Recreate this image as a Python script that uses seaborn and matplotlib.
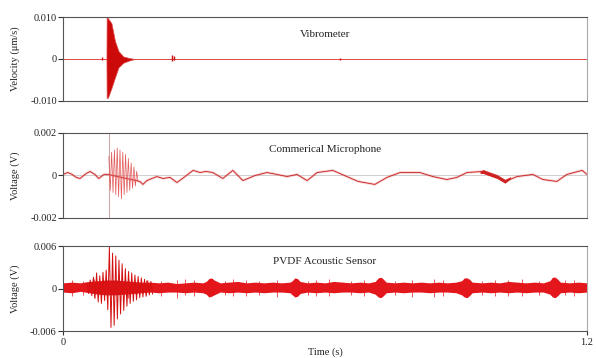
import numpy as np
import pandas as pd
import seaborn as sns
import matplotlib.pyplot as plt

# ---- Vibrometer: envelope of the trace (velocity) ----
vib_t = [0.0, 0.0995, 0.1000, 0.1030, 0.1110, 0.1190, 0.1270, 0.1380, 0.1530, 0.165, 1.2]
vib_hi = [0.0, 0.0, 0.0100, 0.0097, 0.0085, 0.0043, 0.0019, 0.0006, 0.0002, 0.0, 0.0]
vib_lo = [0.0, 0.0, -0.0093, -0.0092, -0.0069, -0.0044, -0.0020, -0.0009, -0.0003, 0.0, 0.0]
# small blips along the vibrometer baseline
vib_blip_t = [0.020, 0.045, 0.089, 0.21, 0.23, 0.249, 0.254, 0.40, 0.52, 0.634, 0.70, 0.78, 0.85, 0.93]
vib_blip_hi = [0.0001, 0.0001, 0.0004, 0.0001, 0.0001, 0.0010, 0.0006, 0.0001, 0.0001, 0.0003, 0.0001, 0.0001, 0.0001, 0.0001]
vib_blip_lo = [-0.0001, -0.0001, -0.0002, -0.0001, -0.0001, -0.0004, -0.0003, -0.0001, -0.0001, -0.0002, -0.0001, -0.0001, -0.0001, -0.0001]

# ---- Commercial microphone: slow wander + burst peaks ----
mic_t = [0.000, 0.011, 0.021, 0.030, 0.039, 0.053, 0.062, 0.073, 0.082, 0.094, 0.103,
         0.176, 0.183, 0.192, 0.204, 0.215, 0.229, 0.245, 0.261, 0.277, 0.298, 0.314,
         0.327, 0.343, 0.366, 0.389, 0.412, 0.440, 0.467, 0.490, 0.513, 0.536, 0.559,
         0.582, 0.618, 0.650, 0.676, 0.714, 0.742, 0.772, 0.817, 0.847, 0.879, 0.902,
         0.925, 0.962, 0.994, 1.012, 1.040, 1.076, 1.099, 1.131, 1.154, 1.189, 1.200]
mic_v = [0.00005, 0.00014, 0.00005, -0.00009, -0.00014, 0.00009, 0.00019, 0.00005, -0.00014, 0.00005, 0.00005,
         -0.00028, -0.00042, -0.00024, -0.00014, -0.00005, -0.00014, -0.00009, -0.00033, -0.00009, 0.00024, 0.00014,
         0.00019, 0.00014, -0.00014, 0.00024, -0.00024, 0.0, 0.00014, 0.00005, -0.00005, 0.00005, -0.00024,
         0.00014, 0.00024, -0.00005, -0.00028, -0.00042, -0.00009, 0.00014, 0.00014, -0.00005, -0.00019, -0.00009,
         0.00014, 0.00019, -0.00005, -0.00028, -0.00005, 0.00005, -0.00019, -0.00028, 0.00005, 0.00024, 0.00005]
mic_burst = [0.0009, -0.0007, 0.0011, -0.0008, 0.0012, -0.0009, 0.0013, -0.0010, 0.0012, -0.0011, 0.0011,
             -0.0009, 0.0010, -0.0008, 0.0008, -0.0007, 0.0006, -0.0006, 0.0004, -0.0005, 0.0002, -0.0003]
mic_dense_t = [0.955, 0.962, 0.975, 0.994, 1.012, 1.025]
mic_dense_hi = [0.00020, 0.00028, 0.00018, 0.00004, -0.00018, -0.00006]
mic_dense_lo = [0.00010, 0.00010, 0.00000, -0.00014, -0.00036, -0.00016]

# ---- PVDF acoustic sensor: noise band + burst peaks ----
pvdf_t = [0.00, 0.02, 0.04, 0.06, 0.08, 0.10, 0.12, 0.14, 0.16, 0.18, 0.20, 0.22, 0.24, 0.26, 0.28, 0.30,
          0.32, 0.328, 0.334, 0.340, 0.346, 0.36, 0.38, 0.40, 0.42, 0.44, 0.46, 0.48, 0.50, 0.52, 0.525,
          0.531, 0.537, 0.543, 0.56, 0.58, 0.60, 0.62, 0.64, 0.66, 0.68, 0.70, 0.715, 0.722, 0.728, 0.734,
          0.740, 0.76, 0.78, 0.80, 0.82, 0.84, 0.86, 0.88, 0.90, 0.913, 0.919, 0.925, 0.931, 0.937, 0.96,
          0.98, 1.00, 1.02, 1.04, 1.06, 1.08, 1.10, 1.115, 1.121, 1.127, 1.133, 1.139, 1.16, 1.18, 1.20]
pvdf_hi = [0.0008, 0.0009, 0.0008, 0.0010, 0.0011, 0.0012, 0.0012, 0.0011, 0.0010, 0.0009, 0.0009, 0.0008,
           0.0009, 0.0007, 0.0008, 0.0009, 0.0008, 0.0010, 0.0014, 0.0015, 0.0012, 0.0008, 0.0009, 0.0010,
           0.0008, 0.0009, 0.0008, 0.0009, 0.0008, 0.0009, 0.0011, 0.0015, 0.0014, 0.0010, 0.0008, 0.0009,
           0.0008, 0.0010, 0.0009, 0.0008, 0.0009, 0.0008, 0.0010, 0.0015, 0.0016, 0.0013, 0.0009, 0.0008,
           0.0009, 0.0008, 0.0009, 0.0008, 0.0009, 0.0008, 0.0009, 0.0011, 0.0015, 0.0015, 0.0013, 0.0009,
           0.0008, 0.0009, 0.0008, 0.0010, 0.0009, 0.0008, 0.0009, 0.0008, 0.0011, 0.0016, 0.0016, 0.0013,
           0.0009, 0.0008, 0.0009, 0.0008]
pvdf_lo = [-0.0005, -0.0006, -0.0004, -0.0006, -0.0008, -0.0009, -0.0009, -0.0008, -0.0007, -0.0006, -0.0005,
           -0.0006, -0.0005, -0.0005, -0.0006, -0.0005, -0.0006, -0.0008, -0.0012, -0.0011, -0.0009, -0.0005,
           -0.0006, -0.0005, -0.0006, -0.0005, -0.0006, -0.0005, -0.0005, -0.0006, -0.0009, -0.0012, -0.0011,
           -0.0007, -0.0005, -0.0006, -0.0005, -0.0006, -0.0005, -0.0005, -0.0006, -0.0005, -0.0008, -0.0012,
           -0.0013, -0.0010, -0.0006, -0.0005, -0.0006, -0.0005, -0.0005, -0.0006, -0.0005, -0.0005, -0.0006,
           -0.0009, -0.0012, -0.0013, -0.0010, -0.0006, -0.0005, -0.0006, -0.0005, -0.0006, -0.0005, -0.0006,
           -0.0005, -0.0005, -0.0008, -0.0012, -0.0013, -0.0010, -0.0006, -0.0005, -0.0006, -0.0005]
pvdf_burst = [0.0008, -0.0007, 0.0012, -0.0010, 0.0016, -0.0014, 0.0022, -0.0019, 0.0018, -0.0021, 0.0023,
              -0.0017, 0.0026, -0.0030, 0.0059, -0.0055, 0.0050, -0.0052, 0.0046, -0.0043, 0.0040, -0.0036,
              0.0035, -0.0031, 0.0028, -0.0025, 0.0024, -0.0021, 0.0022, -0.0018, 0.0019, -0.0016, 0.0017,
              -0.0013, 0.0015, -0.0012, 0.0013, -0.0011, 0.0011, -0.0009, 0.0010, -0.0008]
pvdf_spike_t = [0.02, 0.045, 0.07, 0.15, 0.19, 0.225, 0.262, 0.28, 0.30, 0.37, 0.39, 0.42, 0.45, 0.49,
                0.56, 0.58, 0.61, 0.66, 0.69, 0.76, 0.80, 0.85, 0.87, 0.96, 0.99, 1.02, 1.05, 1.09, 1.15, 1.17]
pvdf_spike_hi = [0.0012, 0.0011, 0.0013, 0.0014, 0.0012, 0.0011, 0.0012, 0.0013, 0.0012, 0.0011, 0.0013,
                 0.0012, 0.0011, 0.0012, 0.0011, 0.0012, 0.0013, 0.0011, 0.0012, 0.0011, 0.0012, 0.0013,
                 0.0012, 0.0011, 0.0012, 0.0012, 0.0013, 0.0011, 0.0012, 0.0012]
pvdf_spike_lo = [-0.0010, -0.0009, -0.0012, -0.0013, -0.0009, -0.0011, -0.0014, -0.0009, -0.0010, -0.0009,
                 -0.0011, -0.0010, -0.0009, -0.0012, -0.0009, -0.0010, -0.0011, -0.0009, -0.0010, -0.0009,
                 -0.0012, -0.0012, -0.0010, -0.0009, -0.0011, -0.0010, -0.0010, -0.0009, -0.0009, -0.0010]

red = '#e3161b'
dark_red = '#cc0a0a'

sns.set_theme(style="white")
plt.rcParams['font.family'] = ['Liberation Serif', 'DejaVu Serif']

fig = plt.figure(figsize=(5.96, 3.58), dpi=100)
ax1 = fig.add_axes([0.1057, 0.7179, 0.8792, 0.2346])
ax2 = fig.add_axes([0.1057, 0.3911, 0.8792, 0.2374])
ax3 = fig.add_axes([0.1057, 0.0754, 0.8792, 0.2374])


def style(ax, lim, labels, ylabel, title, ty):
    ax.set_xlim(0, 1.2)
    ax.set_ylim(-lim, lim)
    ax.set_yticks([-lim, 0, lim])
    ax.set_yticklabels(labels)
    ax.tick_params(axis='y', left=True, direction='out', length=3.5, width=0.8,
                   color='#333333', labelsize=7.5, pad=1, labelcolor='#222222')
    ax.set_ylabel(ylabel, fontsize=7.5, color='#222222')
    ax.yaxis.set_label_coords(-0.082, 0.5)
    for side in ['left', 'top', 'bottom']:
        ax.spines[side].set_color('#555555')
        ax.spines[side].set_linewidth(0.8)
    ax.spines['right'].set_color('#aaaaaa')
    ax.spines['right'].set_linewidth(0.8)
    ax.axhline(0, color='#c8c8c8', lw=0.6, zorder=0)
    ax.text(0.5, ty, title, transform=ax.transAxes, ha='center', va='center',
            fontsize=8, color='#222222')


# Vibrometer
ax1.fill_between(vib_t, vib_lo, vib_hi, color=dark_red, lw=0.5, edgecolor='#e04a4a')
ax1.vlines(vib_blip_t, vib_blip_lo, vib_blip_hi, color=dark_red, lw=1.0)
style(ax1, 0.010, ['-0.010', '0', '0.010'], 'Velocity (\u03bcm/s)', 'Vibrometer', 0.786)
ax1.set_xticks([])

# Microphone
ax2.axvline(0.105, color='#cfa8a8', lw=0.8, zorder=1)
sns.lineplot(x=mic_t, y=mic_v, ax=ax2, color='#e87070', lw=1.8, alpha=0.35, estimator=None)
sns.lineplot(x=mic_t, y=mic_v, ax=ax2, color='#c82020', lw=0.6, estimator=None)
mic_bt = np.linspace(0.105, 0.172, len(mic_burst))
sns.lineplot(x=mic_bt, y=mic_burst, ax=ax2, color='#e25656', lw=0.5, estimator=None)
ax2.fill_between(mic_dense_t, mic_dense_lo, mic_dense_hi, color=dark_red, lw=0)
style(ax2, 0.002, ['-0.002', '0', '0.002'], 'Voltage (V)', 'Commerical Microphone', 0.80)
ax2.set_xticks([])

# PVDF
ax3.fill_between(pvdf_t, pvdf_lo, pvdf_hi, color=red, lw=0)
ax3.vlines(pvdf_spike_t, pvdf_spike_lo, pvdf_spike_hi, color=red, lw=0.5)
pvdf_bt = np.linspace(0.055, 0.205, len(pvdf_burst))
sns.lineplot(x=pvdf_bt, y=pvdf_burst, ax=ax3, color='#d41010', lw=0.7, estimator=None)
style(ax3, 0.006, ['-0.006', '0', '0.006'], 'Voltage (V)', 'PVDF Acoustic Sensor', 0.82)
ax3.set_xticks([0, 1.2])
ax3.set_xticklabels(['0', '1.2'])
ax3.tick_params(axis='x', bottom=True, direction='out', length=3, width=0.8,
                color='#333333', labelsize=7.5, pad=2, labelcolor='#222222')
ax3.set_xlabel('Time (s)', fontsize=7.5, labelpad=0, color='#222222')

fig.savefig('out.png', dpi=100)
